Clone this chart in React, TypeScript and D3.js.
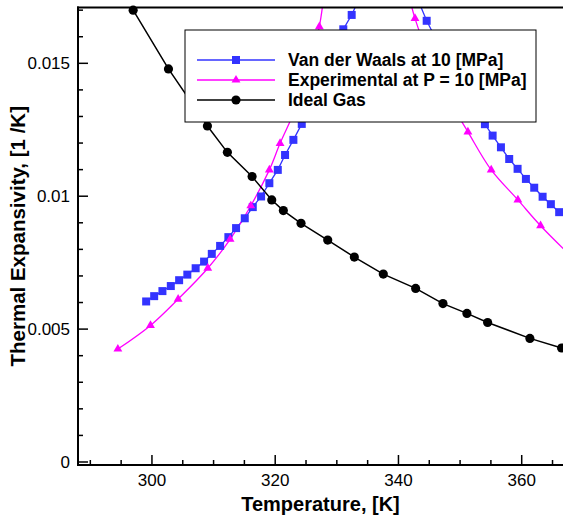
import React from 'react';
import * as d3 from 'd3';

const W = 563;
const H = 518;

const xDomain: [number, number] = [288, 366.7];
const yDomain: [number, number] = [-0.000113, 0.0171];
const xMajorTicks = [300, 320, 340, 360];
const xTickLabels = ['300', '320', '340', '360'];
const xMinorTicks = [290, 295, 305, 310, 315, 325, 330, 335, 345, 350, 355, 365];
const yMajorTicks = [0, 0.005, 0.01, 0.015];
const yTickLabels = ['0', '0.005', '0.01', '0.015'];
const yMinorTicks = [0.001, 0.002, 0.003, 0.004, 0.006, 0.007, 0.008, 0.009, 0.011, 0.012, 0.013, 0.014, 0.016, 0.017];

// Van der Waals at 10 MPa (two branches either side of the peak)
const vdwLeftT = [299.06, 300.36, 301.7, 303.06, 304.41, 305.74, 307.09, 308.46, 309.71, 311.06, 312.4, 313.65, 315.06, 316.36, 317.71, 319.05, 320.42, 321.6, 322.95, 324.31, 325.66, 327.01, 328.36, 329.7, 331.05, 332.41, 333.76];
const vdwLeftA = [0.00604, 0.00624, 0.00643, 0.00662, 0.00684, 0.00705, 0.00729, 0.00754, 0.00783, 0.00813, 0.00846, 0.0088, 0.00917, 0.00959, 0.00999, 0.01049, 0.01099, 0.01155, 0.01212, 0.01272, 0.01338, 0.01405, 0.01478, 0.01553, 0.01628, 0.01682, 0.0175];
const vdwRightT = [343.23, 344.58, 345.93, 347.28, 348.63, 349.98, 351.33, 352.68, 354.03, 355.28, 356.63, 357.97, 359.33, 360.68, 362.03, 363.39, 364.73, 366.08];
const vdwRightA = [0.01735, 0.0166, 0.01598, 0.01538, 0.01478, 0.01422, 0.01368, 0.01318, 0.01271, 0.01228, 0.01184, 0.0114, 0.01103, 0.01065, 0.01032, 0.00998, 0.0097, 0.0094];

// Experimental at P = 10 MPa
const expLeftT = [294.47, 299.76, 304.25, 309.06, 312.68, 316.04, 319.05, 320.79, 323.3, 325.4, 327.16, 328.2];
const expLeftA = [0.00425, 0.00514, 0.00613, 0.00729, 0.00838, 0.00964, 0.01099, 0.01199, 0.0133, 0.0148, 0.01638, 0.0182];
const expRightT = [341.8, 342.68, 344.79, 347.71, 351.27, 355.05, 359.38, 363.06, 368.5];
const expRightA = [0.01745, 0.01669, 0.01535, 0.01384, 0.01242, 0.01099, 0.00986, 0.00889, 0.00763];

// Ideal gas
const idealT = [296.95, 302.68, 309.0, 312.24, 316.25, 319.44, 321.32, 324.19, 328.52, 332.84, 337.54, 342.79, 347.22, 351.11, 354.47, 361.33, 366.47];
const idealA = [0.017, 0.01479, 0.01264, 0.01165, 0.01074, 0.00986, 0.00946, 0.00898, 0.00835, 0.00771, 0.00707, 0.00653, 0.00596, 0.00559, 0.00525, 0.00465, 0.00429];

const legendLabels = ['Van der Waals at 10 [MPa]', 'Experimental at P = 10 [MPa]', 'Ideal Gas'];

const FONT = '"Liberation Sans", Arial, Helvetica, sans-serif';
const BLUE = '#3333ff';
const MAGENTA = '#ff00ff';
const BLACK = '#000000';

const zip = (a: number[], b: number[]): [number, number][] => a.map((v, i) => [v, b[i]]);

export default function App() {
  const x = d3.scaleLinear().domain(xDomain).range([78, 563]);
  const y = d3.scaleLinear().domain(yDomain).range([465, 7.5]);
  const x0 = x(xDomain[0]);
  const x1 = x(xDomain[1]);
  const y0 = y(yDomain[0]);
  const y1 = y(yDomain[1]);

  const straight = d3.line<[number, number]>().x(d => x(d[0])).y(d => y(d[1]));
  const smooth = d3
    .line<[number, number]>()
    .x(d => x(d[0]))
    .y(d => y(d[1]))
    .curve(d3.curveCatmullRom.alpha(0.5));

  const inside = (d: [number, number]) =>
    d[0] >= xDomain[0] && d[0] <= xDomain[1] && d[1] >= yDomain[0] && d[1] <= yDomain[1];

  const sq = d3.symbol().type(d3.symbolSquare).size(64)() as string;
  const tri = d3.symbol().type(d3.symbolTriangle).size(34)() as string;
  const circ = d3.symbol().type(d3.symbolCircle).size(66)() as string;

  const vdwL = zip(vdwLeftT, vdwLeftA);
  const vdwR = zip(vdwRightT, vdwRightA);
  const expL = zip(expLeftT, expLeftA);
  const expR = zip(expRightT, expRightA);
  const ideal = zip(idealT, idealA);

  const markers = (pts: [number, number][], path: string, color: string) =>
    pts.filter(inside).map((d, i) => (
      <path key={i} d={path} transform={`translate(${x(d[0])},${y(d[1])})`} fill={color} />
    ));

  const legendX = 185;
  const legendY = 30;
  const legendW = 351;
  const legendH = 92;
  const rows = [
    { color: BLUE, sym: sq, label: legendLabels[0], w: 1.3 },
    { color: MAGENTA, sym: tri, label: legendLabels[1], w: 1.3 },
    { color: BLACK, sym: circ, label: legendLabels[2], w: 1.5 },
  ];

  return (
    <svg
      width={W}
      height={H}
      style={{ position: 'absolute', left: 0, top: 0, background: '#fff' }}
      fontFamily={FONT}
    >
      <defs>
        <clipPath id="plotClip">
          <rect x={x0} y={y1} width={x1 - x0} height={y0 - y1} />
        </clipPath>
      </defs>
      <rect x={0} y={0} width={W} height={H} fill="#fff" />

      {/* series */}
      <g clipPath="url(#plotClip)" fill="none">
        <path d={straight(vdwL) as string} stroke={BLUE} strokeWidth={1.3} />
        <path d={straight(vdwR) as string} stroke={BLUE} strokeWidth={1.3} />
        <path d={smooth(expL) as string} stroke={MAGENTA} strokeWidth={1.3} />
        <path d={smooth(expR) as string} stroke={MAGENTA} strokeWidth={1.3} />
        <path d={straight(ideal) as string} stroke={BLACK} strokeWidth={1.5} />
      </g>
      <g>
        {markers(vdwL, sq, BLUE)}
        {markers(vdwR, sq, BLUE)}
        {markers(expL, tri, MAGENTA)}
        {markers(expR, tri, MAGENTA)}
        {markers(ideal, circ, BLACK)}
      </g>

      {/* axes */}
      <g stroke="#000" strokeWidth={2} fill="none">
        <line x1={x0} x2={x0} y1={y1 - 1} y2={y0 + 1} />
        <line x1={x0 - 1} x2={x1} y1={y0} y2={y0} />
        <line x1={x0 - 1} x2={x1} y1={y1} y2={y1} />
      </g>
      <g stroke="#000" strokeWidth={1.5}>
        {xMajorTicks.map(t => (
          <line key={'xM' + t} x1={x(t)} x2={x(t)} y1={y0} y2={y0 - 10} />
        ))}
        {xMinorTicks.map(t => (
          <line key={'xm' + t} x1={x(t)} x2={x(t)} y1={y0} y2={y0 - 5} />
        ))}
        {yMajorTicks.map(t => (
          <line key={'yM' + t} x1={x0} x2={x0 + 10} y1={y(t)} y2={y(t)} />
        ))}
        {yMinorTicks.map(t => (
          <line key={'ym' + t} x1={x0} x2={x0 + 5} y1={y(t)} y2={y(t)} />
        ))}
      </g>
      <g fontSize={17} fill="#000">
        {xMajorTicks.map((t, i) => (
          <text key={'xl' + t} x={x(t)} y={486} textAnchor="middle">
            {xTickLabels[i]}
          </text>
        ))}
        {yMajorTicks.map((t, i) => (
          <text key={'yl' + t} x={70} y={y(t) + 6} textAnchor="end">
            {yTickLabels[i]}
          </text>
        ))}
      </g>
      <text x={(x0 + x1) / 2} y={511} textAnchor="middle" fontSize={20} fontWeight="bold">
        Temperature, [K]
      </text>
      <text
        transform={`translate(25,${(y0 + y1) / 2}) rotate(-90)`}
        textAnchor="middle"
        fontSize={20.5}
        fontWeight="bold"
      >
        Thermal Expansivity, [1 /K]
      </text>

      {/* legend */}
      <rect x={legendX} y={legendY} width={legendW} height={legendH} fill="#fff" stroke="#000" strokeWidth={1} />
      {rows.map((r, i) => {
        const cy = 60 + i * 20;
        return (
          <g key={'lg' + i}>
            <line x1={197} x2={275} y1={cy} y2={cy} stroke={r.color} strokeWidth={r.w} />
            <path d={r.sym} transform={`translate(236,${cy})`} fill={r.color} />
            <text x={288} y={cy + 6} fontSize={17.5} fontWeight="bold" fill="#000">
              {r.label}
            </text>
          </g>
        );
      })}
    </svg>
  );
}
